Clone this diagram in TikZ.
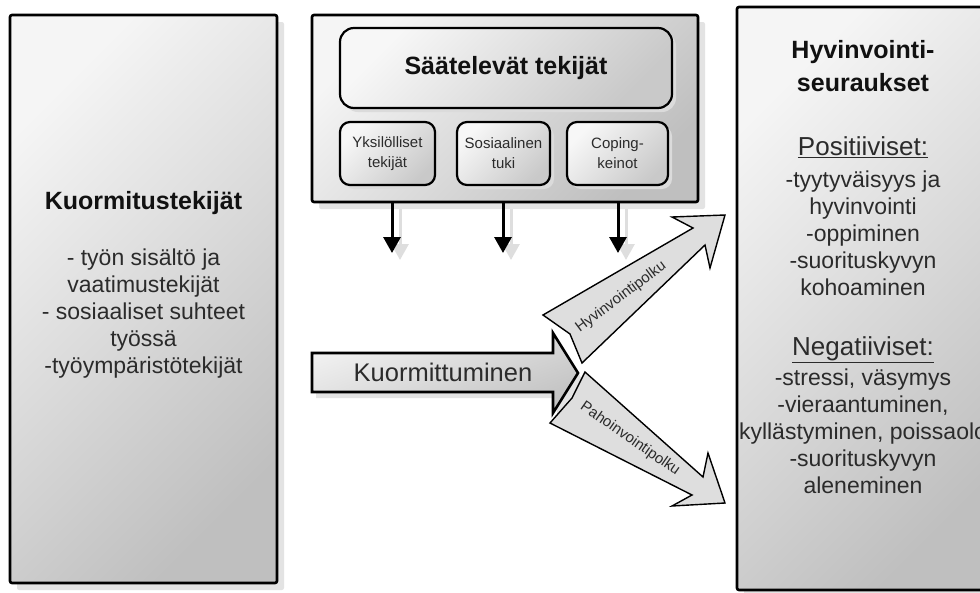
\documentclass[tikz,border=0pt]{standalone}
\usepackage{fontspec}
\setmainfont{Liberation Sans}
\usetikzlibrary{shapes,arrows.meta,positioning,shadows}
\usepackage{xcolor}
\definecolor{txtgray}{HTML}{2B2B2B}
\definecolor{titlegray}{HTML}{111111}

\begin{document}
\begin{tikzpicture}[x=1pt, y=-1pt,
    varjo/.style={drop shadow={shadow xshift=7pt, shadow yshift=-7pt, fill=black!11, opacity=1}},
    isolaatikko/.style={draw, line width=2.6pt, rounded corners=2pt, inner sep=0pt,
        top color=gray!8, bottom color=gray!50, shading angle=45, varjo},
    pienilaatikko/.style={draw, line width=2.2pt, rounded corners=10pt, inner sep=0pt,
        minimum height=63pt, align=center, text=txtgray, font=\fontsize{15}{20}\selectfont,
        top color=gray!6, bottom color=gray!42, shading angle=45,
        drop shadow={shadow xshift=4pt, shadow yshift=-4pt, fill=black!14, opacity=1}},
    otsikko/.style={align=center, text=titlegray, font=\fontsize{25}{33}\selectfont\bfseries},
    leipa/.style={align=center, text=txtgray, font=\fontsize{23}{27}\selectfont},
    valiotsikko/.style={text=txtgray, font=\fontsize{26}{30}\selectfont},
    alasnuoli/.style={line width=3pt, -{Triangle[width=17pt,length=16pt]}},
    varjonuoli/.style={line width=3pt, draw=black!13, -{Triangle[width=17pt,length=16pt]}},
    haara/.style={draw, line width=1.4pt, fill=gray!26, line join=miter},
    haaratxt/.style={text=txtgray, font=\fontsize{15}{18}\selectfont}]

    \useasboundingbox (0,0) rectangle (980,592);
    \clip (0,0) rectangle (980,592);

    % Left box
    \node[isolaatikko, minimum width=267pt, minimum height=568pt] (kuorm) at (143.5,299) {};
    \node[otsikko] (kuormotsikko) at (143.5,203) {Kuormitustekijät};
    \node[leipa] (kuormlista) at (143.5,314) {- työn sisältö ja\\vaatimustekijät\\- sosiaaliset suhteet\\työssä\\-työympäristötekijät};

    % Middle box with moderating factors
    \node[isolaatikko, minimum width=386pt, minimum height=187pt] (saate) at (505,108.5) {};
    \node[pienilaatikko, rounded corners=14pt, minimum width=332pt, minimum height=80pt,
        text=titlegray, font=\fontsize{25}{30}\selectfont\bfseries] (saateotsikko) at (506,68) {Säätelevät tekijät};
    \node[pienilaatikko, minimum width=95pt] (yksil) at (387.5,153.5) {Yksilölliset\\tekijät};
    \node[pienilaatikko, minimum width=93pt] (sosi) at (503.5,153.5) {Sosiaalinen\\tuki};
    \node[pienilaatikko, minimum width=101pt] (coping) at (617.5,153.5) {Coping-\\keinot};

    % Down arrows
    \foreach \n/\x in {1/392, 2/503, 3/618}{
        \coordinate (kohde\n) at (\x,253);
        \draw[varjonuoli] (\x+8,209) -- (\x+8,260);
        \draw[alasnuoli] (saate.south -| kohde\n) -- (kohde\n);
    }

    % Right box
    \node[isolaatikko, minimum width=265pt, minimum height=583pt] (seur) at (869.5,298.5) {};
    \node[otsikko] (seurotsikko) at (863,66.5) {Hyvinvointi-\\seuraukset};
    \node[valiotsikko] (posotsikko) at (863,147) {\underline{Positiiviset:}};
    \node[leipa] (poslista) at (863,233.5) {-tyytyväisyys ja\\hyvinvointi\\-oppiminen\\-suorituskyvyn\\kohoaminen};
    \node[valiotsikko] (negotsikko) at (863,350) {\underline{Negatiiviset:}};
    \node[leipa] (neglista) at (863,431.5) {-stressi, väsymys\\-vieraantuminen,\\kyllästyminen, poissaolo\\-suorituskyvyn\\aleneminen};

    % Strain arrow
    \draw[line width=2.6pt, line join=miter, top color=gray!10, bottom color=gray!48, shading angle=20,
        drop shadow={shadow xshift=4pt, shadow yshift=-6pt, fill=black!11, opacity=1}]
        (312,353) -- (553,353) -- (553,333) -- (578,373) -- (553,413) -- (553,392) -- (312,392) -- cycle;
    \node[text=txtgray, font=\fontsize{25.5}{30}\selectfont] (kuormittuminen) at (443,372) {Kuormittuminen};

    % Well-being and ill-being paths
    \draw[haara] (543,315) -- (693,228) -- (672,217) -- (725,215) -- (710,268) -- (705,245) -- (582,363) -- (570,334) -- cycle;
    \node[haaratxt, rotate=36.7] (hyvinpolku) at (621,297) {Hyvinvointipolku};
    \draw[haara] (585,372) -- (703,477) -- (708,453) -- (725,503) -- (672,506) -- (692,495) -- (550,423) -- (572,398) -- cycle;
    \node[haaratxt, rotate=-34.8] (pahopolku) at (630,439) {Pahoinvointipolku};
\end{tikzpicture}
\end{document}
